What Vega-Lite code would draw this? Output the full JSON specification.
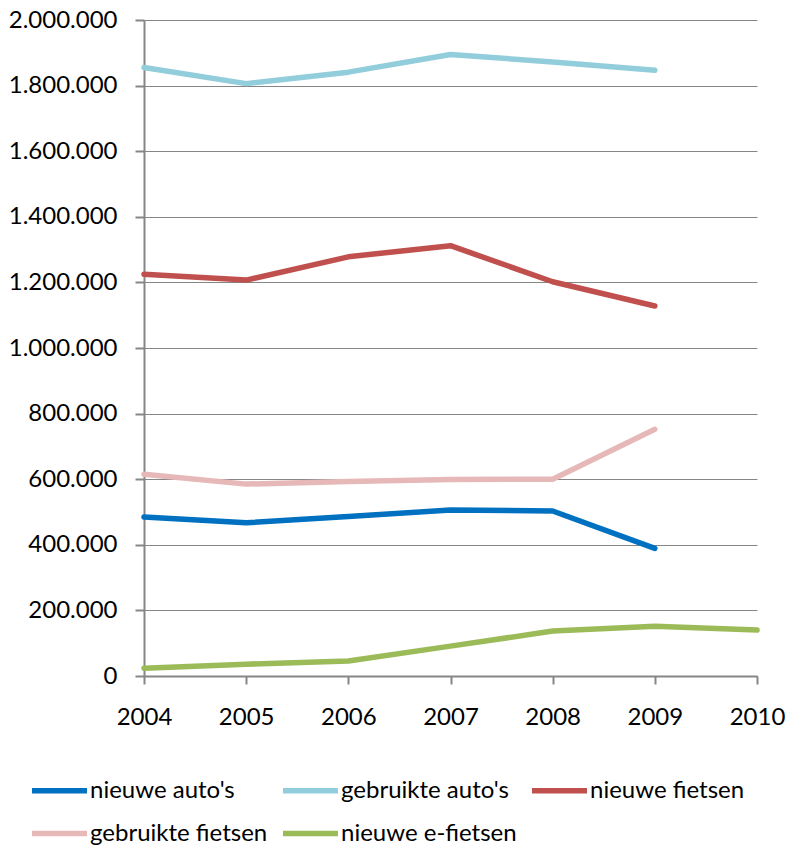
{
  "$schema": "https://vega.github.io/schema/vega-lite/v6.json",
  "width": 613,
  "height": 656,
  "autosize": {"type": "none"},
  "padding": {"left": 144, "top": 20, "right": 29, "bottom": 171},
  "background": "white",
  "config": {
    "locale": {"number": {"decimal": ",", "thousands": ".", "grouping": [3], "currency": ["€", ""]}},
    "font": "Lato",
    "view": {"stroke": null},
    "axis": {
      "labelFont": "Lato",
      "labelFontSize": 24,
      "labelColor": "#000000",
      "domainColor": "#868686",
      "domainWidth": 2,
      "tickColor": "#868686",
      "tickWidth": 2,
      "gridColor": "#868686",
      "gridWidth": 1.2,
      "title": null
    }
  },
  "data": {
    "values": [
      {"jaar": "2004", "reeks": "nieuwe auto's", "aantal": 485000},
      {"jaar": "2005", "reeks": "nieuwe auto's", "aantal": 467000},
      {"jaar": "2006", "reeks": "nieuwe auto's", "aantal": 486000},
      {"jaar": "2007", "reeks": "nieuwe auto's", "aantal": 506000},
      {"jaar": "2008", "reeks": "nieuwe auto's", "aantal": 503000},
      {"jaar": "2009", "reeks": "nieuwe auto's", "aantal": 389000},
      {"jaar": "2004", "reeks": "gebruikte auto's", "aantal": 1855000},
      {"jaar": "2005", "reeks": "gebruikte auto's", "aantal": 1806000},
      {"jaar": "2006", "reeks": "gebruikte auto's", "aantal": 1841000},
      {"jaar": "2007", "reeks": "gebruikte auto's", "aantal": 1895000},
      {"jaar": "2008", "reeks": "gebruikte auto's", "aantal": 1872000},
      {"jaar": "2009", "reeks": "gebruikte auto's", "aantal": 1847000},
      {"jaar": "2004", "reeks": "nieuwe fietsen", "aantal": 1225000},
      {"jaar": "2005", "reeks": "nieuwe fietsen", "aantal": 1207000},
      {"jaar": "2006", "reeks": "nieuwe fietsen", "aantal": 1278000},
      {"jaar": "2007", "reeks": "nieuwe fietsen", "aantal": 1312000},
      {"jaar": "2008", "reeks": "nieuwe fietsen", "aantal": 1202000},
      {"jaar": "2009", "reeks": "nieuwe fietsen", "aantal": 1128000},
      {"jaar": "2004", "reeks": "gebruikte fietsen", "aantal": 615000},
      {"jaar": "2005", "reeks": "gebruikte fietsen", "aantal": 585000},
      {"jaar": "2006", "reeks": "gebruikte fietsen", "aantal": 593000},
      {"jaar": "2007", "reeks": "gebruikte fietsen", "aantal": 599000},
      {"jaar": "2008", "reeks": "gebruikte fietsen", "aantal": 600000},
      {"jaar": "2009", "reeks": "gebruikte fietsen", "aantal": 752000},
      {"jaar": "2004", "reeks": "nieuwe e-fietsen", "aantal": 24000},
      {"jaar": "2005", "reeks": "nieuwe e-fietsen", "aantal": 36000},
      {"jaar": "2006", "reeks": "nieuwe e-fietsen", "aantal": 46000},
      {"jaar": "2007", "reeks": "nieuwe e-fietsen", "aantal": 91000},
      {"jaar": "2008", "reeks": "nieuwe e-fietsen", "aantal": 137000},
      {"jaar": "2009", "reeks": "nieuwe e-fietsen", "aantal": 152000},
      {"jaar": "2010", "reeks": "nieuwe e-fietsen", "aantal": 140000}
    ]
  },
  "mark": {"type": "line", "strokeWidth": 5.5, "strokeCap": "round", "strokeJoin": "round"},
  "encoding": {
    "x": {
      "field": "jaar",
      "type": "ordinal",
      "scale": {"type": "point", "padding": 0, "domain": ["2004", "2005", "2006", "2007", "2008", "2009", "2010"]},
      "axis": {"labelAngle": 0, "tickSize": 8, "labelPadding": 21, "grid": false}
    },
    "y": {
      "field": "aantal",
      "type": "quantitative",
      "scale": {"domain": [0, 2000000], "nice": false},
      "axis": {"values": [0, 200000, 400000, 600000, 800000, 1000000, 1200000, 1400000, 1600000, 1800000, 2000000], "format": ",d", "tickSize": 9, "labelPadding": 18, "grid": true}
    },
    "color": {
      "field": "reeks",
      "type": "nominal",
      "scale": {
        "domain": ["nieuwe auto's", "gebruikte auto's", "nieuwe fietsen", "gebruikte fietsen", "nieuwe e-fietsen"],
        "range": ["#0070C0", "#92CDDC", "#C0504D", "#E6B9B8", "#9BBB59"]
      },
      "legend": {
        "title": null,
        "orient": "none",
        "legendX": -115,
        "legendY": 740,
        "direction": "horizontal",
        "columns": 3,
        "symbolType": "stroke",
        "symbolSize": 3025,
        "symbolStrokeWidth": 5.5,
        "labelFont": "Lato",
        "labelFontSize": 24,
        "labelColor": "#000000",
        "labelOffset": 0,
        "columnPadding": 4,
        "rowPadding": -9,
        "labelLimit": 400
      }
    }
  }
}
